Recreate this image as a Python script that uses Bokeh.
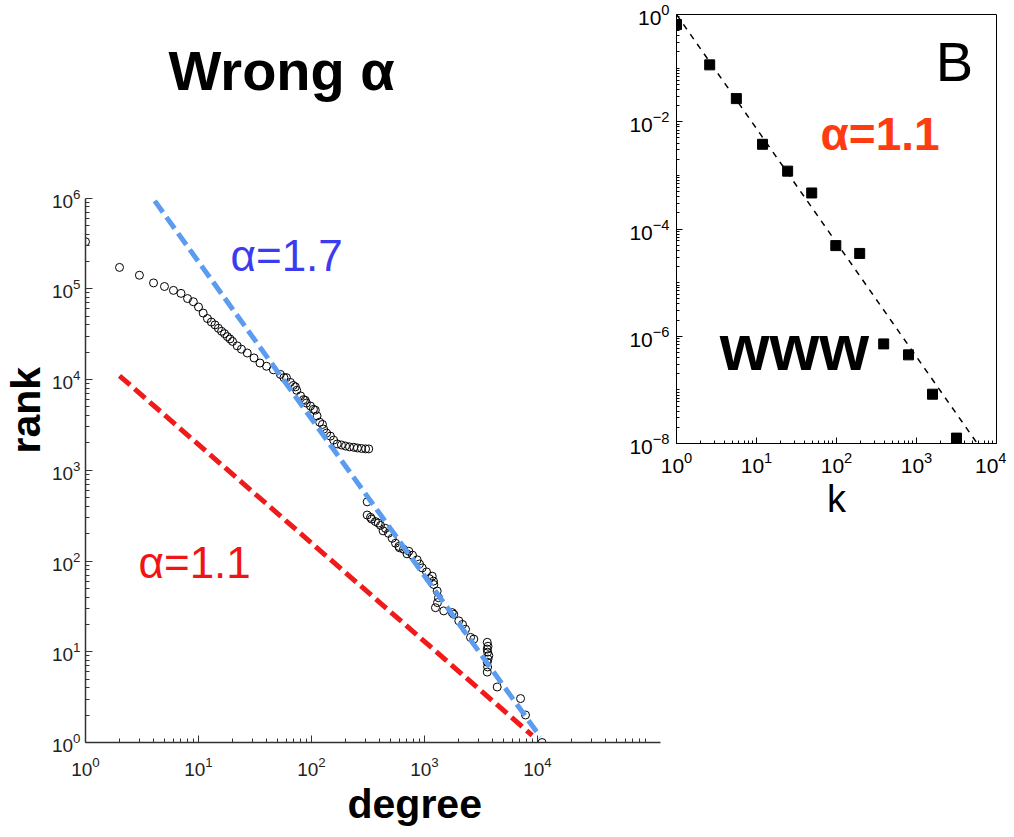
from bokeh.plotting import figure
from bokeh.models import Range1d, FixedTicker, Label, Title
from bokeh.layouts import row
from bokeh.embed import file_html
from bokeh.resources import INLINE

FONT = "Liberation Sans"

# ---------------- main panel data (rank vs degree) ----------------
degree = [1, 2, 3, 4, 5, 6, 7, 8, 9, 10, 11, 12, 13, 14, 15, 16, 17, 18, 19, 20,
          22, 24, 27, 31, 35, 40, 46, 53, 57,
          60, 65, 69, 72, 74, 80, 85, 88, 90, 98, 104, 108, 112, 118, 125, 128, 136,
          147, 157, 169, 184, 200, 217, 237, 255, 277, 301, 321,
          311,
          311, 333, 340, 368, 390, 408, 430, 452, 480, 518, 554, 593, 600, 652, 700, 727,
          783, 861, 903, 955, 1042, 1100, 1170, 1200, 1210, 1295, 1330, 1303, 1250, 1480,
          1760, 1815, 2012, 2170, 2306, 2554, 2730, 3590, 3650, 3590, 3620, 3710, 3650,
          3590, 3620, 3590, 4400, 7080, 7830, 10970]
rank = [3.3e5, 1.72e5, 1.41e5, 1.16e5, 1.06e5, 9.6e4, 8.9e4, 7.8e4, 7.2e4, 6.3e4,
        5.4e4, 4.7e4, 4.3e4, 4.0e4, 3.67e4, 3.4e4, 3.2e4, 2.97e4, 2.8e4, 2.63e4,
        2.35e4, 2.16e4, 1.96e4, 1.73e4, 1.52e4, 1.40e4, 1.28e4, 1.14e4, 1.05e4,
        1.05e4, 9.3e3, 8.6e3, 8.3e3, 7.6e3, 6.6e3, 6.0e3, 5.9e3, 5.5e3, 5.1e3, 4.7e3,
        4.6e3, 3.97e3, 3.39e3, 3.2e3, 2.84e3, 2.57e3,
        2.38e3, 2.15e3, 1.95e3, 1.90e3, 1.85e3, 1.81e3, 1.79e3, 1.76e3, 1.74e3, 1.72e3, 1.72e3,
        449,
        321, 303, 290, 272, 262, 247, 215, 229, 202, 178, 157, 145, 140, 135, 120, 128,
        116, 103, 92.7, 84, 75.8, 64, 68, 60, 55, 46.6, 39.4, 34.8, 30.6, 28.2,
        27, 25.9, 21.9, 20, 17.7, 14.4, 13.8, 12.7, 11.5, 10.7, 9.9, 9.08, 8.3,
        7.67, 6.8, 5.97, 4.09, 3.05, 2.01, 1.0]

blue_fit_degree = [4.1, 10600]
blue_fit_rank = [9.3e5, 1.15]
red_fit_degree = [2.0, 8970]
red_fit_rank = [1.1e4, 1.2]

main_x_ticks = [1, 10, 100, 1000, 10000]
main_y_ticks = [1, 10, 100, 1000, 1e4, 1e5, 1e6]

# ---------------- inset data (P(k) vs k) ----------------
inset_k = [1.0, 2.6, 5.6, 11.9, 24.5, 49, 98, 195, 389, 794, 1585, 3162]
inset_p = [0.65, 0.115, 0.027, 3.8e-3, 1.2e-3, 4.7e-4, 4.9e-5, 3.5e-5,
           7.2e-7, 4.5e-7, 8.3e-8, 1.26e-8]
inset_fit_k = [1.0, 5750]
inset_fit_p = [1.0, 1e-8]

inset_x_ticks = [1, 10, 100, 1000, 10000]
inset_y_ticks = [1, 1e-2, 1e-4, 1e-6, 1e-8]


def minors(e0, e1):
    out = []
    for e in range(e0, e1):
        for m in range(2, 10):
            out.append(m * 10.0 ** e)
    return out


# ---------------- main figure ----------------
PXX, PXY = 113.0, 91.5          # pixels per decade
FL, FR, FT, FB = 85, 670, 20, 746  # frame edges (figure pixels)


def mx(px):
    return 10 ** ((px - FL) / PXX)


def my(py):
    return 10 ** ((FB - py) / PXY)


p = figure(width=670, height=837, x_axis_type="log", y_axis_type="log",
           x_range=Range1d(1, mx(FR)), y_range=Range1d(1, my(FT)),
           output_backend="svg", toolbar_location=None, title=None,
           min_border_left=85, min_border_right=0, min_border_top=20, min_border_bottom=91)
p.outline_line_color = None
p.grid.visible = False
p.background_fill_color = "white"
p.border_fill_color = "white"

p.xaxis.bounds = (1, 10 ** 5.085)
p.yaxis.bounds = (1, 1e6)
p.xaxis.ticker = FixedTicker(ticks=main_x_ticks, minor_ticks=minors(0, 5))
p.yaxis.ticker = FixedTicker(ticks=main_y_ticks, minor_ticks=minors(0, 6))
for ax in (p.xaxis[0], p.yaxis[0]):
    ax.axis_line_color = "#333333"
    ax.axis_line_width = 1.5
    ax.major_tick_line_color = "#333333"
    ax.minor_tick_line_color = "#333333"
    ax.major_tick_in = 7
    ax.major_tick_out = 0
    ax.minor_tick_in = 4
    ax.minor_tick_out = 0
    ax.major_label_text_font = FONT
    ax.major_label_text_font_size = "19px"
    ax.major_label_text_color = "#222222"
p.xaxis.major_label_standoff = 14
p.yaxis.major_label_standoff = 5

p.add_layout(Title(text="degree", align="left", offset=262, standoff=0, text_font=FONT,
                   text_font_size="41px", text_font_style="bold", text_color="black"), "below")
p.add_layout(Title(text="rank", align="left", offset=289, standoff=0, text_font=FONT,
                   text_font_size="41px", text_font_style="bold", text_color="black"), "left")

p.scatter(degree, rank, marker="circle", size=8, fill_color=None,
          line_color="black", line_width=1)
p.line(red_fit_degree, red_fit_rank, line_color="#f01a1a", line_width=5, line_dash="14 6")
p.line(blue_fit_degree, blue_fit_rank, line_color="#5c9cf0", line_width=5, line_dash="14 6")

p.add_layout(Label(x=mx(168), y=my(68), text="Wrong α",
                   text_font=FONT, text_font_size="56px", text_font_style="bold",
                   text_color="black", text_baseline="alphabetic"))
p.add_layout(Label(x=mx(230), y=my(255), text="α=1.7",
                   text_font=FONT, text_font_size="44px", text_color="#3b3bf0",
                   text_baseline="alphabetic"))
p.add_layout(Label(x=mx(138), y=my(564), text="α=1.1",
                   text_font=FONT, text_font_size="44px", text_color="#f01414",
                   text_baseline="alphabetic"))

# ---------------- inset figure ----------------
ins = figure(width=400, height=546, x_axis_type="log", y_axis_type="log",
             x_range=Range1d(1, 1e4), y_range=Range1d(1e-8, 1),
             output_backend="svg", toolbar_location=None, title=None,
             min_border_left=70, min_border_right=10, min_border_top=22, min_border_bottom=95)
ins.margin = (-8, 0, 0, -64)
ins.grid.visible = False
ins.border_fill_alpha = 0
ins.background_fill_color = "white"
ins.outline_line_color = "black"
ins.outline_line_width = 1

ins.xaxis.ticker = FixedTicker(ticks=inset_x_ticks, minor_ticks=minors(0, 4))
ins.yaxis.ticker = FixedTicker(ticks=inset_y_ticks,
                               minor_ticks=minors(-8, 0) + [1e-1, 1e-3, 1e-5, 1e-7])
for ax in (ins.xaxis[0], ins.yaxis[0]):
    ax.axis_line_color = "black"
    ax.axis_line_width = 1
    ax.major_tick_in = 6
    ax.major_tick_out = 0
    ax.minor_tick_in = 3
    ax.minor_tick_out = 0
    ax.major_label_text_font = FONT
    ax.major_label_text_font_size = "21px"
    ax.major_label_text_color = "black"
ins.xaxis.major_label_standoff = 8
ins.yaxis.major_label_standoff = 7
ins.xaxis.axis_label = "k"
ins.xaxis.axis_label_text_font = FONT
ins.xaxis.axis_label_text_font_size = "38px"
ins.xaxis.axis_label_text_font_style = "normal"
ins.xaxis.axis_label_text_color = "black"
ins.xaxis.axis_label_standoff = 2

ins.line(inset_fit_k, inset_fit_p, line_color="black", line_width=1.5, line_dash="6 6")
ins.scatter(inset_k, inset_p, marker="square", size=10, color="black")

ins.add_layout(Label(x=10 ** 3.24, y=10 ** -0.884, text="B", text_font=FONT,
                     text_font_size="56px", text_color="black", text_baseline="alphabetic"))
ins.add_layout(Label(x=10 ** 1.8, y=10 ** -2.234, text="α=1.1", text_font=FONT,
                     text_font_size="46px", text_font_style="bold", text_color="#ff3b12",
                     text_baseline="alphabetic"))
ins.add_layout(Label(x=10 ** 0.54, y=10 ** -6.226, text="www", text_font=FONT,
                     text_font_size="64px", text_font_style="bold", text_color="black",
                     text_baseline="alphabetic"))

layout = row(p, ins)
open("out.html", "w").write(file_html(layout, INLINE))
